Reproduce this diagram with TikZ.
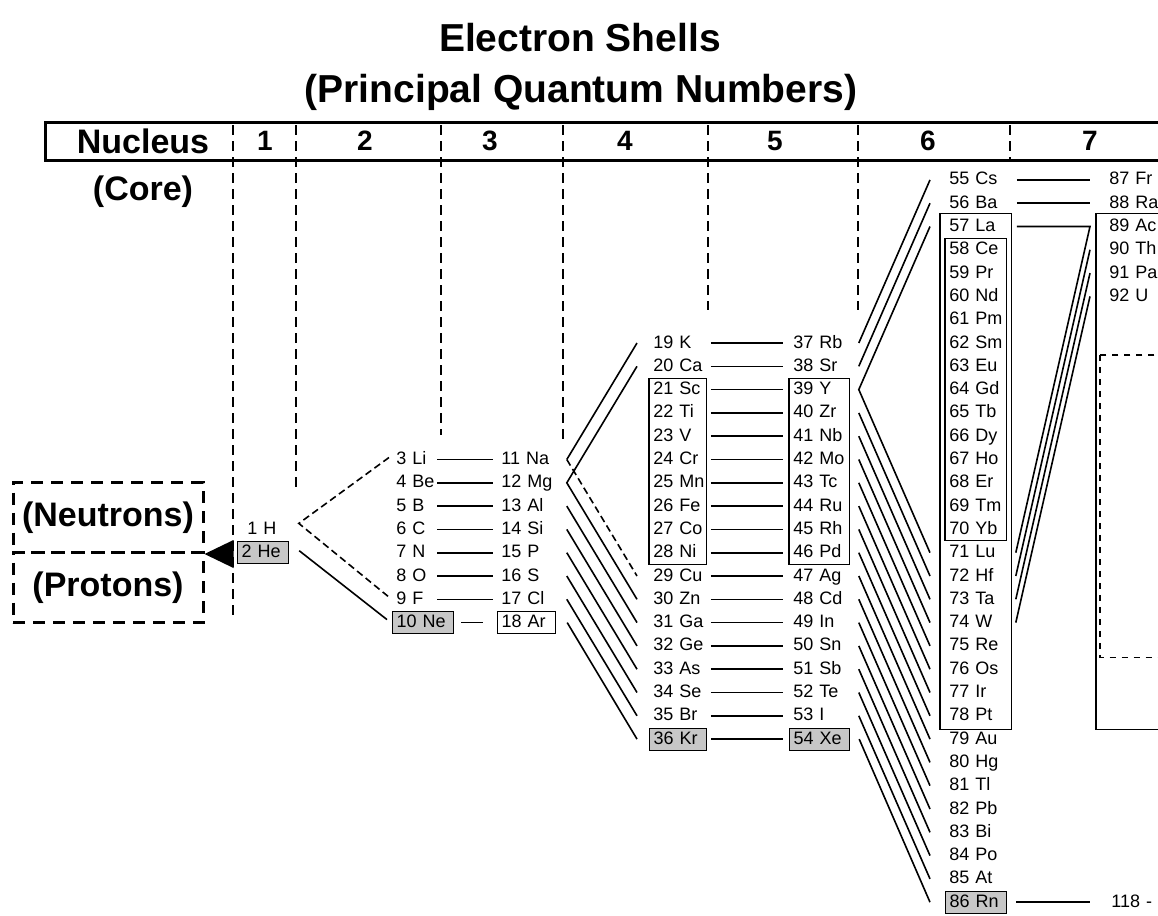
\documentclass[tikz,border=0pt]{standalone}
\usepackage{fontspec}
\setmainfont{Liberation Sans}
\usetikzlibrary{calc}

\tikzset{
  elem/.style={anchor=west, font=\fontsize{9}{10}\selectfont, inner xsep=2pt,
    inner ysep=0pt, minimum height=11pt, text height=6.8pt, text depth=1.8pt,
    text width=#1, align=left},
  elem/.default=26pt,
  noble/.style={draw, line width=0.6pt, fill=black!22},
  group/.style={line width=0.6pt},
  link/.style={line width=0.8pt},
  hdash/.style={line width=0.8pt, dash pattern=on 3.5pt off 2pt},
  shell/.style={line width=0.9pt, dash pattern=on 5pt off 3pt},
  corebox/.style={draw, line width=1.5pt, dash pattern=on 6pt off 4pt,
    minimum width=95pt, minimum height=35pt, font=\fontsize{17}{20}\selectfont\bfseries},
  head/.style={font=\fontsize{17}{20}\selectfont\bfseries},
  shellnum/.style={font=\fontsize{14}{16}\selectfont\bfseries},
  titletext/.style={font=\fontsize{19.5}{22}\selectfont\bfseries}
}

\begin{document}
\begin{tikzpicture}[x=0.5pt, y=-0.5pt]
    \clip (0,0) rectangle (1158,916);

    % title
    \node[titletext] (title) at (580,38) {Electron Shells};
    \node[titletext] (subtitle) at (581,92) {(Principal Quantum Numbers)};

    % header bar
    \draw[line width=1.5pt] (1170,122) -- (45,122) -- (45,160) -- (1170,160);
    \node[head] (nucleus) at (143,141) {Nucleus};
    \foreach \n/\x in {1/265,2/365,3/490,4/625,5/775,6/928,7/1090}
        \node[shellnum] (n\n) at (\x,141) {\n};
    \node[head] (core) at (143,192) {(Core)};

    % shell boundaries
    \foreach \x/\y in {233/620,296/492,441/435,563/440,708/310,858/310,1010/160}
        \draw[shell] (\x,125) -- (\x,\y);

    % nucleus
    \node[corebox] (neut) at (108,517.5) {(Neutrons)};
    \node[corebox] (prot) at (108,587.5) {(Protons)};
    \fill (neut.south east) -- ++(29,-14) -- ++(0,28) -- cycle;

    % shell 1
    \node[elem=21.5pt] (e1) at (237,{343+23.3*8}) {\hspace{3pt}1 H};
    \node[elem=21.5pt, noble] (e2) at (237,{343+23.3*9}) {2 He};

    % shell 2
    \foreach \z/\s in {3/Li,4/Be,5/B,6/C,7/N,8/O,9/F}
        \node[elem=26.5pt] (e\z) at (392,{343+23.3*(\z+2)}) {\z~\s};
    \node[elem=26.5pt, noble] (e10) at (392,{343+23.3*12}) {10 Ne};

    % shell 3
    \foreach \z/\s in {11/Na,12/Mg,13/Al,14/Si,15/P,16/S,17/Cl}
        \node[elem=25pt] (e\z) at (497,{343+23.3*(\z-6)}) {\z~\s};
    \node[elem=25pt, draw, line width=0.6pt] (e18) at (497,{343+23.3*12}) {18 Ar};

    % shell 4
    \foreach \z/\s in {19/K,20/Ca,21/Sc,22/Ti,23/V,24/Cr,25/Mn,26/Fe,27/Co,28/Ni,
                       29/Cu,30/Zn,31/Ga,32/Ge,33/As,34/Se,35/Br}
        \node[elem=24.5pt] (e\z) at (649,{343+23.3*(\z-19)}) {\z~\s};
    \node[elem=24.5pt, noble] (e36) at (649,{343+23.3*17}) {36 Kr};

    % shell 5
    \foreach \z/\s in {37/Rb,38/Sr,39/Y,40/Zr,41/Nb,42/Mo,43/Tc,44/Ru,45/Rh,46/Pd,
                       47/Ag,48/Cd,49/In,50/Sn,51/Sb,52/Te,53/I}
        \node[elem=26pt] (e\z) at (789,{343+23.3*(\z-37)}) {\z~\s};
    \node[elem=26pt, noble] (e54) at (789,{343+23.3*17}) {54 Xe};

    % shell 6
    \foreach \z/\s in {55/Cs,56/Ba,57/La,58/Ce,59/Pr,60/Nd,61/Pm,62/Sm,63/Eu,64/Gd,
                       65/Tb,66/Dy,67/Ho,68/Er,69/Tm,70/Yb,71/Lu,72/Hf,73/Ta,74/W,
                       75/Re,76/Os,77/Ir,78/Pt,79/Au,80/Hg,81/Tl,82/Pb,83/Bi,84/Po,85/At}
        \node[elem=26.5pt] (e\z) at (945,{343+23.3*(\z-62)}) {\z~\s};
    \node[elem=26.5pt, noble] (e86) at (945,{343+23.3*24}) {86 Rn};

    % shell 7
    \foreach \z/\s in {87/Fr,88/Ra,89/Ac,90/Th,91/Pa,92/U}
        \node[elem] (e\z) at (1105,{343+23.3*(\z-94)}) {\z~\s};
    \node[elem] (e118) at (1107,{343+23.3*24}) {118 -};

    % transition blocks
    \draw[group] (e21.north west) rectangle (e28.south east);
    \draw[group] (e39.north west) rectangle (e46.south east);
    \draw[group] ($(e57.north west)+(-5,-2)$) rectangle ($(e78.south east)+(5,2)$);
    \draw[group] (e58.north west) rectangle (e70.south east);
    \draw[group] ($(e89.north west)+(-9,-2)$) rectangle ($(e78.south east)+(160,2)$);
    \draw[group, dashed] ($(e89.west|-e63.north)+(-5,0)$) rectangle ($(e78.east|-e75.south)+(160,0)$);

    % 1 -> 2
    \draw[hdash] ($(e3.west)+(-3,-2)$) -- ($(e1.east)+(10,-6)$) -- ($(e9.west)+(-4,-3)$);
    \draw[link] ($(e2.east)+(10,-2)$) -- ($(e10.west)+(-5,-3)$);

    % 2 -> 3
    \foreach \p/\q in {3/11,4/12,5/13,6/14,7/15,8/16,9/17}
        \draw[link] ($(e\p.west)+(45,0)$) -- ($(e\q.west)+(-4,0)$);
    \draw[link] ($(e10.east)+(7,0)$) -- ($(e18.west)+(-14,0)$);

    % 3 -> 4
    \draw[link] ($(e19.west)+(-12,0)$) -- ($(e11.east)+(11,0)$);
    \draw[hdash] ($(e11.east)+(11,0)$) -- ($(e29.west)+(-12,0)$);
    \draw[link] ($(e20.west)+(-12,0)$) -- ($(e12.east)+(11,0)$) -- ($(e30.west)+(-12,0)$);
    \foreach \p/\q in {13/31,14/32,15/33,16/34,17/35,18/36}
        \draw[link] ($(e\p.east)+(11,0)$) -- ($(e\q.west)+(-12,0)$);

    % 4 -> 5
    \foreach \p [evaluate=\p as \q using int(\p+18)] in {19,...,36}
        \draw[link] ($(e\p.east)+(4,0)$) -- ($(e\q.west)+(-6,0)$);

    % 5 -> 6
    \draw[link] ($(e37.east)+(9,0)$) -- ($(e55.west)+(-15,0)$);
    \draw[link] ($(e38.east)+(9,0)$) -- ($(e56.west)+(-15,0)$);
    \draw[link] ($(e57.west)+(-15,0)$) -- ($(e39.east)+(9,0)$) -- ($(e71.west)+(-15,0)$);
    \foreach \p [evaluate=\p as \q using int(\p+32)] in {40,...,54}
        \draw[link] ($(e\p.east)+(9,0)$) -- ($(e\q.west)+(-15,0)$);

    % 6 -> 7
    \draw[link] ($(e55.east)+(10,0)$) -- ($(e87.west)+(-15,0)$);
    \draw[link] ($(e56.east)+(10,0)$) -- ($(e88.west)+(-15,0)$);
    \draw[link] ($(e57.east)+(10,0)$) -- ($(e89.west)+(-15,0)$) -- ($(e71.east)+(9,0)$);
    \foreach \p/\q in {72/90,73/91,74/92}
        \draw[link] ($(e\p.east)+(9,0)$) -- ($(e\q.west)+(-15,0)$);
    \draw[link] ($(e86.east)+(9,0)$) -- ($(e118.west)+(-17,0)$);
\end{tikzpicture}
\end{document}
